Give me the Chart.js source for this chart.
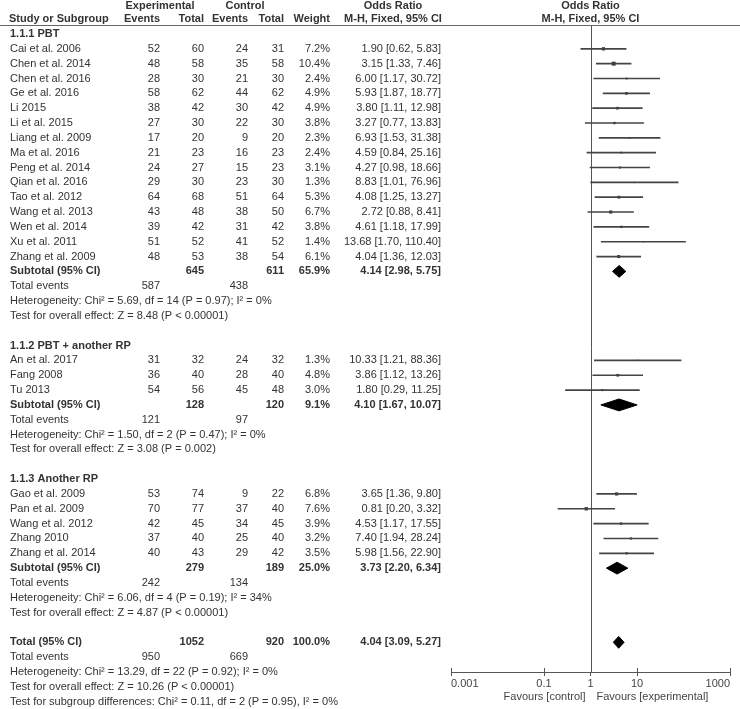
<!DOCTYPE html>
<html>
<head>
<meta charset="utf-8">
<script src="https://cdn.jsdelivr.net/npm/chart.js@4.4.1/dist/chart.umd.min.js"></script>
<style>
  html, body { margin: 0; padding: 0; background: #fff; }
  #wrap { width: 740px; height: 709px; }
</style>
</head>
<body>
<div id="wrap"><canvas id="forest" width="740" height="709"></canvas></div>
<script>
// study level data
const studies = [
    "Cai et al. 2006", "Chen et al. 2014", "Chen et al. 2016", "Ge et al. 2016", "Li 2015",
    "Li et al. 2015", "Liang et al. 2009", "Ma et al. 2016", "Peng et al. 2014", "Qian et al. 2016",
    "Tao et al. 2012", "Wang et al. 2013", "Wen et al. 2014", "Xu et al. 2011", "Zhang et al. 2009",
    "An et al. 2017", "Fang 2008", "Tu 2013",
    "Gao et al. 2009", "Pan et al. 2009", "Wang et al. 2012", "Zhang 2010", "Zhang et al. 2014",
];
const studyGroup = [0,0,0,0,0,0,0,0,0,0,0,0,0,0,0, 1,1,1, 2,2,2,2,2];
const expEvents = [52, 48, 28, 58, 38, 27, 17, 21, 24, 29, 64, 43, 39, 51, 48, 31, 36, 54, 53, 70, 42, 37, 40];
const expTotal = [60, 58, 30, 62, 42, 30, 20, 23, 27, 30, 68, 48, 42, 52, 53, 32, 40, 56, 74, 77, 45, 40, 43];
const ctlEvents = [24, 35, 21, 44, 30, 22, 9, 16, 15, 23, 51, 38, 31, 41, 38, 24, 28, 45, 9, 37, 34, 25, 29];
const ctlTotal = [31, 58, 30, 62, 42, 30, 20, 23, 23, 30, 64, 50, 42, 52, 54, 32, 40, 48, 22, 40, 45, 40, 42];
const weights = [7.2, 10.4, 2.4, 4.9, 4.9, 3.8, 2.3, 2.4, 3.1, 1.3, 5.3, 6.7, 3.8, 1.4, 6.1, 1.3, 4.8, 3.0, 6.8, 7.6, 3.9, 3.2, 3.5];
const oddsRatio = [1.90, 3.15, 6.00, 5.93, 3.80, 3.27, 6.93, 4.59, 4.27, 8.83, 4.08, 2.72, 4.61, 13.68, 4.04, 10.33, 3.86, 1.80, 3.65, 0.81, 4.53, 7.40, 5.98];
const ciLow = [0.62, 1.33, 1.17, 1.87, 1.11, 0.77, 1.53, 0.84, 0.98, 1.01, 1.25, 0.88, 1.18, 1.70, 1.36, 1.21, 1.12, 0.29, 1.36, 0.20, 1.17, 1.94, 1.56];
const ciHigh = [5.83, 7.46, 30.72, 18.77, 12.98, 13.83, 31.38, 25.16, 18.66, 76.96, 13.27, 8.41, 17.99, 110.40, 12.03, 88.36, 13.26, 11.25, 9.80, 3.32, 17.55, 28.24, 22.90];

// subgroup data
const groupNames = ["1.1.1 PBT", "1.1.2 PBT + another RP", "1.1.3 Another RP"];
const groupExpTotal = [645, 128, 279];
const groupCtlTotal = [611, 120, 189];
const groupWeight = [65.9, 9.1, 25.0];
const groupOR = [4.14, 4.10, 3.73];
const groupLow = [2.98, 1.67, 2.20];
const groupHigh = [5.75, 10.07, 6.34];
const groupExpEvents = [587, 121, 242];
const groupCtlEvents = [438, 97, 134];
const groupHet = [
    "Heterogeneity: Chi² = 5.69, df = 14 (P = 0.97); I² = 0%",
    "Heterogeneity: Chi² = 1.50, df = 2 (P = 0.47); I² = 0%",
    "Heterogeneity: Chi² = 6.06, df = 4 (P = 0.19); I² = 34%",
];
const groupTest = [
    "Test for overall effect: Z = 8.48 (P < 0.00001)",
    "Test for overall effect: Z = 3.08 (P = 0.002)",
    "Test for overall effect: Z = 4.87 (P < 0.00001)",
];

// overall
const totalExpTotal = 1052;
const totalCtlTotal = 920;
const totalWeight = 100.0;
const totalOR = 4.04;
const totalLow = 3.09;
const totalHigh = 5.27;
const totalExpEvents = 950;
const totalCtlEvents = 669;
const totalNotes = [
    "Heterogeneity: Chi² = 13.29, df = 22 (P = 0.92); I² = 0%",
    "Test for overall effect: Z = 10.26 (P < 0.00001)",
    "Test for subgroup differences: Chi² = 0.11, df = 2 (P = 0.95), I² = 0%",
];

const xTicks = [0.001, 0.1, 1, 10, 1000];
const xTickLabels = ["0.001", "0.1", "1", "10", "1000"];
const favours = ["Favours [control]", "Favours [experimental]"];

// build the row list (one row per line of the table)
const fmtCI = (o, l, h) => `${o.toFixed(2)} [${l.toFixed(2)}, ${h.toFixed(2)}]`;
const rows = [];
const studyRow = [];
const diamondRows = [];
groupNames.forEach((g, gi) => {
    rows.push({ kind: "group", name: g });
    studies.forEach((s, k) => {
        if (studyGroup[k] !== gi) return;
        studyRow[k] = rows.length;
        rows.push({
            kind: "study", name: s,
            cells: [expEvents[k], expTotal[k], ctlEvents[k], ctlTotal[k], weights[k].toFixed(1) + "%", fmtCI(oddsRatio[k], ciLow[k], ciHigh[k])],
        });
    });
    diamondRows.push({ row: rows.length, or: groupOR[gi], lo: groupLow[gi], hi: groupHigh[gi] });
    rows.push({
        kind: "subtotal", name: "Subtotal (95% CI)",
        cells: ["", groupExpTotal[gi], "", groupCtlTotal[gi], groupWeight[gi].toFixed(1) + "%", fmtCI(groupOR[gi], groupLow[gi], groupHigh[gi])],
    });
    rows.push({ kind: "events", name: "Total events", cells: [groupExpEvents[gi], "", groupCtlEvents[gi]] });
    rows.push({ kind: "note", name: groupHet[gi] });
    rows.push({ kind: "note", name: groupTest[gi] });
    rows.push({ kind: "blank" });
});
diamondRows.push({ row: rows.length, or: totalOR, lo: totalLow, hi: totalHigh });
rows.push({
    kind: "subtotal", name: "Total (95% CI)",
    cells: ["", totalExpTotal, "", totalCtlTotal, totalWeight.toFixed(1) + "%", fmtCI(totalOR, totalLow, totalHigh)],
});
rows.push({ kind: "events", name: "Total events", cells: [totalExpEvents, "", totalCtlEvents] });
totalNotes.forEach((n) => rows.push({ kind: "note", name: n }));

// column right edges
const colRight = [160, 204, 248, 284, 330, 441];
const nameX = 10;
const textColor = "#333";
const font = '11px "Liberation Sans", Arial, sans-serif';
const boldFont = 'bold 11px "Liberation Sans", Arial, sans-serif';

const tablePlugin = {
    id: "table",
    beforeDatasetsDraw(chart) {
        const { ctx, chartArea, scales } = chart;
        const x1 = Math.round(scales.x.getPixelForValue(1)) + 0.5;
        ctx.save();
        ctx.strokeStyle = "#555";
        ctx.lineWidth = 1;
        ctx.beginPath();
        ctx.moveTo(x1, chartArea.top);
        ctx.lineTo(x1, chartArea.bottom);
        ctx.stroke();
        ctx.restore();
    },
    afterDraw(chart) {
        const { ctx, chartArea, scales } = chart;
        const y = scales.y;
        const x = scales.x;
        ctx.save();
        ctx.fillStyle = textColor;
        ctx.textBaseline = "middle";

        // header
        ctx.font = boldFont;
        ctx.textAlign = "center";
        ctx.fillText("Experimental", 160, 6);
        ctx.fillText("Control", 245, 6);
        ctx.fillText("Odds Ratio", 393, 6);
        ctx.fillText("Odds Ratio", x.getPixelForValue(1), 6);
        ctx.fillText("M-H, Fixed, 95% CI", 393, 19);
        ctx.fillText("M-H, Fixed, 95% CI", x.getPixelForValue(1), 19);
        ctx.textAlign = "left";
        ctx.fillText("Study or Subgroup", 9, 19);
        ctx.textAlign = "right";
        ["Events", "Total", "Events", "Total", "Weight"].forEach((h, i) => ctx.fillText(h, colRight[i], 19));

        ctx.strokeStyle = "#666";
        ctx.lineWidth = 1;
        ctx.beginPath();
        ctx.moveTo(0, 25.5);
        ctx.lineTo(740, 25.5);
        ctx.stroke();

        // rows
        rows.forEach((r, i) => {
            if (r.kind === "blank") return;
            const py = y.getPixelForValue(i);
            const bold = r.kind === "group" || r.kind === "subtotal";
            ctx.font = bold ? boldFont : font;
            ctx.textAlign = "left";
            ctx.fillText(r.name, nameX, py);
            if (r.cells) {
                ctx.textAlign = "right";
                r.cells.forEach((c, ci) => {
                    if (c === "") return;
                    ctx.fillText(String(c), colRight[ci], py);
                });
            }
        });

        // axis: upper half of tick marks and favours labels
        const x1 = x.getPixelForValue(1);
        ctx.strokeStyle = "#555";
        x.ticks.forEach((t) => {
            const px = Math.round(x.getPixelForValue(t.value)) + 0.5;
            ctx.beginPath();
            ctx.moveTo(px, chartArea.bottom - 4);
            ctx.lineTo(px, chartArea.bottom);
            ctx.stroke();
        });
        ctx.font = font;
        ctx.fillStyle = "#444";
        ctx.textAlign = "right";
        ctx.fillText(favours[0], x1 - 5, 697);
        ctx.textAlign = "left";
        ctx.fillText(favours[1], x1 + 6, 697);
        ctx.restore();
    },
};

const diamondSets = diamondRows.map((d) => ({
    type: "line",
    data: [
        { x: d.lo, y: d.row },
        { x: d.or, y: d.row - 0.4 },
        { x: d.hi, y: d.row },
        { x: d.or, y: d.row + 0.4 },
        { x: d.lo, y: d.row },
    ],
    borderColor: "#000",
    backgroundColor: "#000",
    borderWidth: 1,
    pointRadius: 0,
    tension: 0,
    fill: "shape",
}));

new Chart(document.getElementById("forest"), {
    type: "scatter",
    data: {
        datasets: [
            {
                type: "bar",
                indexAxis: "y",
                data: studies.map((s, k) => ({ y: studyRow[k], x: [ciLow[k], ciHigh[k]] })),
                backgroundColor: "#444",
                borderWidth: 0,
                barThickness: 1,
                grouped: false,
            },
            {
                type: "scatter",
                data: studies.map((s, k) => ({ x: oddsRatio[k], y: studyRow[k] })),
                pointStyle: "rect",
                pointRadius: weights.map((w) => 0.85 * Math.sqrt(w)),
                backgroundColor: "#333",
                borderWidth: 0,
            },
            ...diamondSets,
        ],
    },
    options: {
        responsive: false,
        animation: false,
        layout: { padding: { left: 451, right: 10, top: 25, bottom: 0 } },
        plugins: {
            legend: { display: false },
            tooltip: { enabled: false },
        },
        scales: {
            x: {
                type: "logarithmic",
                position: "bottom",
                min: 0.001,
                max: 1000,
                beginAtZero: false,
                afterBuildTicks: (scale) => {
                    scale.ticks = xTicks.map((v) => ({ value: v }));
                },
                afterFit: (scale) => {
                    scale.height = 37;
                },
                grid: { display: true, drawOnChartArea: false, drawTicks: true, tickLength: 4, color: "#555" },
                border: { display: true, color: "#555" },
                ticks: {
                    align: "inner",
                    autoSkip: false,
                    maxRotation: 0,
                    padding: 1,
                    color: "#444",
                    font: { family: '"Liberation Sans", Arial, sans-serif', size: 11 },
                    callback: (v, i) => xTickLabels[i],
                },
            },
            y: {
                type: "linear",
                display: false,
                reverse: true,
                offset: false,
                min: -0.606,
                max: 43,
                grid: { offset: false },
            },
        },
    },
    plugins: [tablePlugin],
});
</script>
</body>
</html>
